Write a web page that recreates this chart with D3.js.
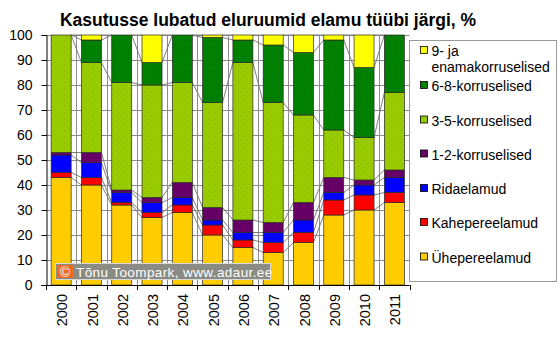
<!DOCTYPE html>
<html>
<head>
<meta charset="utf-8">
<script src="https://cdn.jsdelivr.net/npm/d3@7/dist/d3.min.js"></script>
<style>
  html, body { margin: 0; padding: 0; background: #fff; }
  svg { display: block; font-family: "Liberation Sans", Arial, sans-serif; }
</style>
</head>
<body>
<svg id="chart" width="560" height="342"></svg>
<script>
// Dwellings completed by building type, share of total (%)
const years = ["2000","2001","2002","2003","2004","2005","2006","2007","2008","2009","2010","2011"];
const yhepereelamud  = [43, 40, 32, 27, 29, 20, 15, 13, 17, 28, 30, 33];
const kahepereelamud = [ 2,  3,  1,  2,  3,  4,  3,  4,  4,  6,  6,  4];
const ridaelamud     = [ 7,  6,  4,  4,  3,  2,  3,  4,  5,  3,  4,  6];
const korrus12       = [ 1,  4,  1,  2,  6,  5,  5,  4,  7,  6,  2,  3];
const korrus35       = [47, 36, 43, 45, 40, 42, 63, 48, 35, 19, 17, 31];
const korrus68       = [ 0,  9, 19,  9, 19, 26,  9, 23, 25, 36, 28, 23];
const korrus9        = [ 0,  2,  0, 11,  0,  1,  2,  4,  7,  2, 13,  0];
const yTicks = [0, 10, 20, 30, 40, 50, 60, 70, 80, 90, 100];
const title = "Kasutusse lubatud eluruumid elamu tüübi järgi, %";

const seriesDefs = [
  { key: "yhe",  name: "Ühepereelamud",   values: yhepereelamud,  color: "#FFCC00" },
  { key: "kahe", name: "Kahepereelamud",  values: kahepereelamud, color: "#FF0000" },
  { key: "rida", name: "Ridaelamud",      values: ridaelamud,     color: "#0000FF" },
  { key: "k12",  name: "1-2-korruselised", values: korrus12,      color: "#660066" },
  { key: "k35",  name: "3-5-korruselised", values: korrus35,      color: "#99CC00", dots: "#86b400" },
  { key: "k68",  name: "6-8-korruselised", values: korrus68,      color: "#008000", dots: "#006e00" },
  { key: "k9",   name: ["9- ja", "enamakorruselised"], values: korrus9, color: "#FFFF00" }
];

const rows = years.map((y, i) => {
  const r = { year: y };
  seriesDefs.forEach(s => r[s.key] = s.values[i]);
  return r;
});

const svg = d3.select("#chart");

// sparse dotted fills for the two green series
const defs = svg.append("defs");
seriesDefs.filter(s => s.dots).forEach(s => {
  const p = defs.append("pattern")
    .attr("id", "pat-" + s.key)
    .attr("patternUnits", "userSpaceOnUse")
    .attr("width", 6).attr("height", 6);
  p.append("rect").attr("width", 6).attr("height", 6).attr("fill", s.color);
  p.append("rect").attr("x", 1).attr("y", 1).attr("width", 1).attr("height", 1).attr("fill", s.dots);
  p.append("rect").attr("x", 4).attr("y", 4).attr("width", 1).attr("height", 1).attr("fill", s.dots);
});
const fillOf = s => s.dots ? "url(#pat-" + s.key + ")" : s.color;

const plot = { left: 46, right: 409.5, top: 35, bottom: 285 };

const x = d3.scaleBand().domain(years).range([plot.left, plot.right]).padding(0);
const y = d3.scaleLinear().domain([0, 100]).range([plot.bottom, plot.top]);
const barW = x.bandwidth() * 0.66;
const barX = d => x(d) + (x.bandwidth() - barW) / 2;

// title
svg.append("text")
  .attr("x", 268).attr("y", 26)
  .attr("text-anchor", "middle")
  .attr("font-size", 17.5).attr("font-weight", "bold")
  .attr("fill", "#000")
  .text(title);

// horizontal gridlines
svg.append("g").selectAll("line").data(yTicks.filter(t => t > 0)).join("line")
  .attr("x1", plot.left).attr("x2", plot.right)
  .attr("y1", d => y(d) + 0.5).attr("y2", d => y(d) + 0.5)
  .attr("stroke", "#8c8c8c").attr("stroke-width", 1);

// vertical gridlines at category boundaries
svg.append("g").selectAll("line").data(years.slice(1)).join("line")
  .attr("x1", d => Math.round(x(d)) + 0.5).attr("x2", d => Math.round(x(d)) + 0.5)
  .attr("y1", plot.top).attr("y2", plot.bottom)
  .attr("stroke", "#8c8c8c").attr("stroke-width", 1);

// stacked layout
const stack = d3.stack().keys(seriesDefs.map(s => s.key));
const layers = stack(rows);

// series lines joining segment tops of neighbouring bars
const lineG = svg.append("g");
layers.forEach(layer => {
  for (let i = 0; i < layer.length - 1; i++) {
    const a = layer[i], b = layer[i + 1];
    lineG.append("line")
      .attr("x1", barX(a.data.year) + barW).attr("y1", y(a[1]))
      .attr("x2", barX(b.data.year)).attr("y2", y(b[1]))
      .attr("stroke", "#707070").attr("stroke-width", 0.9);
  }
});

// bars
const barG = svg.append("g");
layers.forEach((layer, li) => {
  const s = seriesDefs[li];
  barG.append("g").selectAll("rect").data(layer.filter(d => d[1] - d[0] > 0)).join("rect")
    .attr("x", d => barX(d.data.year))
    .attr("y", d => y(d[1]))
    .attr("width", barW)
    .attr("height", d => y(d[0]) - y(d[1]))
    .attr("fill", fillOf(s))
    .attr("stroke", "#2a2a2a").attr("stroke-width", 0.7);
});

// y axis
const yAxis = d3.axisLeft(y).tickValues(yTicks).tickSize(5).tickPadding(9).tickFormat(d3.format("d"));
const yg = svg.append("g").attr("transform", `translate(${plot.left + 0.5},0)`).call(yAxis);
yg.select(".domain").attr("stroke", "#000");
yg.selectAll(".tick line").attr("stroke", "#000");
yg.selectAll(".tick text").attr("font-size", 14).attr("fill", "#000")
  .attr("font-family", "'Liberation Sans', Arial, sans-serif");

// x axis: boundary ticks and rotated year labels
const xg = svg.append("g");
xg.append("line")
  .attr("x1", plot.left).attr("x2", plot.right)
  .attr("y1", plot.bottom + 0.5).attr("y2", plot.bottom + 0.5)
  .attr("stroke", "#000");
xg.selectAll("line.tk").data(years.concat(["end"])).join("line")
  .attr("class", "tk")
  .attr("x1", d => d === "end" ? Math.round(plot.right) + 0.5 : Math.round(x(d)) + 0.5)
  .attr("x2", d => d === "end" ? Math.round(plot.right) + 0.5 : Math.round(x(d)) + 0.5)
  .attr("y1", plot.bottom).attr("y2", plot.bottom + 5)
  .attr("stroke", "#000");
xg.selectAll("text").data(years).join("text")
  .attr("transform", d => `translate(${x(d) + x.bandwidth() / 2 + 1},${plot.bottom + 9}) rotate(-90)`)
  .attr("text-anchor", "end")
  .attr("dy", "0.35em")
  .attr("font-size", 14.5).attr("fill", "#000")
  .text(d => d);

// copyright badge
const badge = svg.append("g");
badge.append("rect")
  .attr("x", 55.5).attr("y", 263.5).attr("width", 215).attr("height", 16)
  .attr("fill", "#8b8b85").attr("stroke", "#d8d8d8").attr("stroke-width", 1);
badge.append("rect")
  .attr("x", 57).attr("y", 265).attr("width", 16).attr("height", 13)
  .attr("fill", "#ee6a22");
badge.append("text")
  .attr("x", 65).attr("y", 276.5)
  .attr("text-anchor", "middle")
  .attr("font-size", 14).attr("fill", "#fff")
  .text("©");
badge.append("text")
  .attr("x", 76).attr("y", 276.5)
  .attr("font-size", 13.5).attr("fill", "#fff")
  .attr("letter-spacing", 0.4)
  .text("Tõnu Toompark, www.adaur.ee");

// legend
const lg = svg.append("g");
lg.append("rect")
  .attr("x", 409.5).attr("y", 40.5).attr("width", 147).attr("height", 241)
  .attr("fill", "#fff").attr("stroke", "#9a9a9a");
const legendOrder = seriesDefs.slice().reverse();
const legendY = [51, 86, 120.5, 154.5, 189, 223, 257.5];
legendOrder.forEach((s, i) => {
  const cy = legendY[i];
  lg.append("rect")
    .attr("x", 420.5).attr("y", cy - 4.5).attr("width", 7).attr("height", 7)
    .attr("fill", s.color).attr("stroke", "#000").attr("stroke-width", 0.8);
  const names = Array.isArray(s.name) ? s.name : [s.name];
  names.forEach((n, j) => {
    lg.append("text")
      .attr("x", 431.5).attr("y", cy + j * 16)
      .attr("dy", "0.36em")
      .attr("font-size", 14).attr("fill", "#000")
      .text(n);
  });
});
</script>
</body>
</html>
